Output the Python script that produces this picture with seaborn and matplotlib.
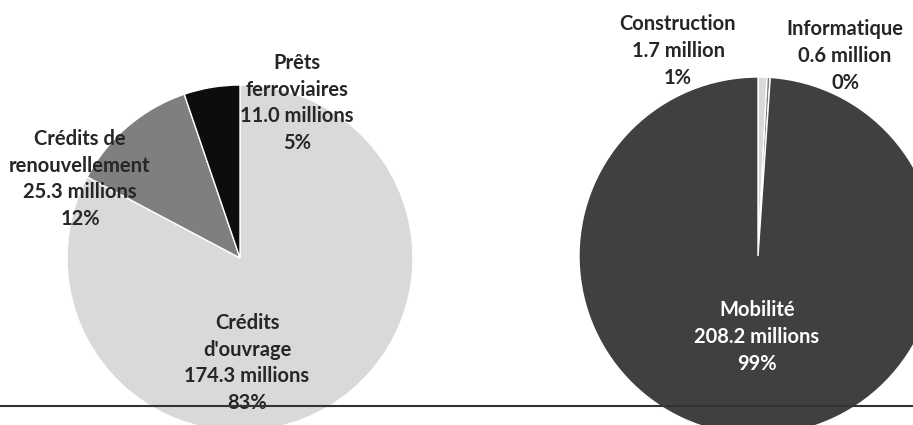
import matplotlib
matplotlib.use("Agg")
import matplotlib.pyplot as plt
import seaborn as sns

sns.set_theme(style="white")
plt.rcParams['font.family'] = ['Lato', 'DejaVu Sans']

# data
credit_names = ["Crédits\nd'ouvrage", "Crédits de\nrenouvellement", "Prêts\nferroviaires"]
credit_values = [174.3, 25.3, 11.0]
domain_names = ["Construction", "Informatique", "Mobilité"]
domain_values = [1.7, 0.6, 208.2]

# styles / layout (pixels, y measured from bottom)
credit_colors = ["#d9d9d9", "#7f7f7f", "#0d0d0d"]
domain_colors = ["#d9d9d9", "#7f7f7f", "#404040"]
credit_label_pos = [(247, 62), (80, 246), (297, 322)]
domain_label_pos = [(678, 374), (845, 369), (757, 88)]
domain_text_colors = ["#262626", "#262626", "white"]


def make_label(name, value, total):
    unit = "millions" if value >= 2 else "million"
    return f"{name}\n{value:.1f} {unit}\n{value / total * 100:.0f}%"


fig = plt.figure(figsize=(9.13, 4.25), dpi=100)
ax = fig.add_axes([0, 0, 1, 1])

ax.pie(credit_values, colors=credit_colors, startangle=90, counterclock=False,
       center=(240, 167), radius=173, frame=True)
ax.pie(domain_values, colors=domain_colors, startangle=90, counterclock=False,
       center=(758, 169), radius=179, frame=True)

tot = sum(credit_values)
for name, val, (x, y) in zip(credit_names, credit_values, credit_label_pos):
    ax.text(x, y, make_label(name, val, tot), ha="center", va="center",
            fontsize=14.5, fontweight="bold", color="#262626", linespacing=1.42)

tot = sum(domain_values)
for name, val, (x, y), c in zip(domain_names, domain_values, domain_label_pos, domain_text_colors):
    ax.text(x, y, make_label(name, val, tot), ha="center", va="center",
            fontsize=14.5, fontweight="bold", color=c, linespacing=1.42)

ax.axhline(19, color="#333333", lw=1.5, zorder=5)

ax.set_xlim(0, 913)
ax.set_ylim(0, 425)
ax.set_aspect("auto")
ax.axis("off")

fig.savefig("out.png", dpi=100)
